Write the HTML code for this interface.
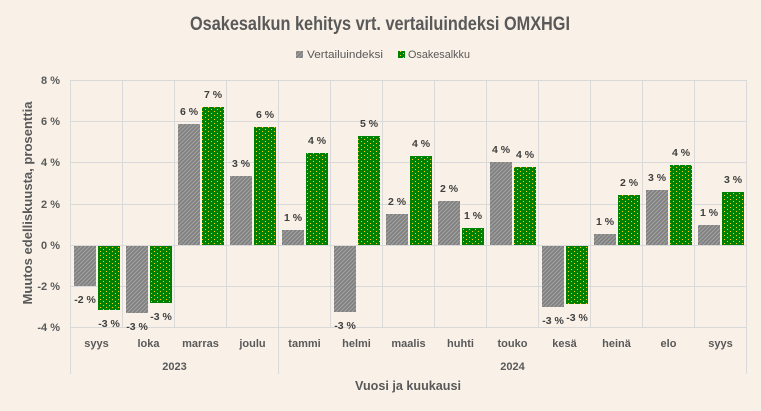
<!DOCTYPE html>
<html>
<head>
<meta charset="utf-8">
<style>
  html,body{margin:0;padding:0;background:#F9F1E7;}
  svg{display:block;}
  text{font-family:"Liberation Sans",sans-serif;}
</style>
</head>
<body>
<svg width="761" height="411" viewBox="0 0 761 411" xmlns="http://www.w3.org/2000/svg">
  <defs>
    <pattern id="hatch" patternUnits="userSpaceOnUse" width="4" height="4">
      <rect width="4" height="4" fill="#7F7F7F"/>
      <path d="M-1,1 l2,-2 M0,4 l4,-4 M3,5 l2,-2" stroke="#A3A3A3" stroke-width="1.1"/>
    </pattern>
    <pattern id="dots" patternUnits="userSpaceOnUse" width="6" height="4">
      <rect width="6" height="4" fill="#008000"/>
      <rect x="1" y="1" width="1" height="1" fill="#FFD500"/>
      <rect x="4" y="3" width="1" height="1" fill="#FFD500"/>
    </pattern>
  </defs>
  <rect width="761" height="411" fill="#F9F1E7"/>

  <!-- Title -->
  <text x="380" y="30" font-size="19" font-weight="bold" fill="#595959" text-anchor="middle" textLength="380" lengthAdjust="spacingAndGlyphs">Osakesalkun kehitys vrt. vertailuindeksi OMXHGI</text>

  <!-- Legend -->
  <rect x="296" y="51" width="7" height="7" fill="url(#hatch)"/>
  <text x="307" y="58" font-size="11" fill="#595959" textLength="76" lengthAdjust="spacingAndGlyphs">Vertailuindeksi</text>
  <rect x="398" y="51" width="7" height="7" fill="url(#dots)"/>
  <text x="408" y="58" font-size="11" fill="#595959" textLength="62" lengthAdjust="spacingAndGlyphs">Osakesalkku</text>

  <!-- Horizontal gridlines -->
  <g stroke="#D9D9D9" stroke-width="1">
    <line x1="70.5" y1="80.5" x2="746.5" y2="80.5"/>
    <line x1="70.5" y1="121.5" x2="746.5" y2="121.5"/>
    <line x1="70.5" y1="162.5" x2="746.5" y2="162.5"/>
    <line x1="70.5" y1="204.5" x2="746.5" y2="204.5"/>
    <line x1="70.5" y1="245.5" x2="746.5" y2="245.5"/>
    <line x1="70.5" y1="286.5" x2="746.5" y2="286.5"/>
    <line x1="70.5" y1="327.5" x2="746.5" y2="327.5"/>
    <!-- vertical category gridlines -->
    <line x1="70.5" y1="80" x2="70.5" y2="374"/>
    <line x1="122.5" y1="80" x2="122.5" y2="328"/>
    <line x1="174.5" y1="80" x2="174.5" y2="328"/>
    <line x1="226.5" y1="80" x2="226.5" y2="328"/>
    <line x1="278.5" y1="80" x2="278.5" y2="374"/>
    <line x1="330.5" y1="80" x2="330.5" y2="328"/>
    <line x1="382.5" y1="80" x2="382.5" y2="328"/>
    <line x1="434.5" y1="80" x2="434.5" y2="328"/>
    <line x1="486.5" y1="80" x2="486.5" y2="328"/>
    <line x1="538.5" y1="80" x2="538.5" y2="328"/>
    <line x1="590.5" y1="80" x2="590.5" y2="328"/>
    <line x1="642.5" y1="80" x2="642.5" y2="328"/>
    <line x1="694.5" y1="80" x2="694.5" y2="328"/>
    <line x1="746.5" y1="80" x2="746.5" y2="374"/>
  </g>

  <!-- Y tick labels -->
  <g font-size="11" font-weight="bold" fill="#595959" text-anchor="end">
    <text x="60" y="84">8 %</text>
    <text x="60" y="125">6 %</text>
    <text x="60" y="166">4 %</text>
    <text x="60" y="208">2 %</text>
    <text x="60" y="249">0 %</text>
    <text x="60" y="290">-2 %</text>
    <text x="60" y="331">-4 %</text>
  </g>

  <!-- Y axis title -->
  <text transform="translate(32,203) rotate(-90)" font-size="13" font-weight="bold" fill="#595959" text-anchor="middle" textLength="203" lengthAdjust="spacingAndGlyphs">Muutos edelliskuusta, prosenttia</text>

  <!-- Bars: Vertailuindeksi (grey hatch) -->
  <g fill="url(#hatch)">
    <rect x="74" y="246" width="22" height="40"/>
    <rect x="126" y="246" width="22" height="67"/>
    <rect x="178" y="124" width="22" height="121"/>
    <rect x="230" y="176" width="22" height="69"/>
    <rect x="282" y="230" width="22" height="15"/>
    <rect x="334" y="246" width="22" height="66"/>
    <rect x="386" y="214" width="22" height="31"/>
    <rect x="438" y="201" width="22" height="44"/>
    <rect x="490" y="162" width="22" height="83"/>
    <rect x="542" y="246" width="22" height="61"/>
    <rect x="594" y="234" width="22" height="11"/>
    <rect x="646" y="190" width="22" height="55"/>
    <rect x="698" y="225" width="22" height="20"/>
  </g>
  <!-- Bars: Osakesalkku (green dots) -->
  <g fill="url(#dots)">
    <rect x="98" y="246" width="22" height="64"/>
    <rect x="150" y="246" width="22" height="57"/>
    <rect x="202" y="107" width="22" height="138"/>
    <rect x="254" y="127" width="22" height="118"/>
    <rect x="306" y="153" width="22" height="92"/>
    <rect x="358" y="136" width="22" height="109"/>
    <rect x="410" y="156" width="22" height="89"/>
    <rect x="462" y="228" width="22" height="17"/>
    <rect x="514" y="167" width="22" height="78"/>
    <rect x="566" y="246" width="22" height="58"/>
    <rect x="618" y="195" width="22" height="50"/>
    <rect x="670" y="165" width="22" height="80"/>
    <rect x="722" y="192" width="22" height="53"/>
  </g>

  <!-- Data labels -->
  <g font-size="10.5" font-weight="bold" fill="#404040" text-anchor="middle">
    <text x="85" y="303">-2 %</text>
    <text x="109" y="327">-3 %</text>
    <text x="137" y="330">-3 %</text>
    <text x="161" y="320">-3 %</text>
    <text x="189" y="115">6 %</text>
    <text x="213" y="98">7 %</text>
    <text x="241" y="167">3 %</text>
    <text x="265" y="118">6 %</text>
    <text x="293" y="221">1 %</text>
    <text x="317" y="144">4 %</text>
    <text x="345" y="329">-3 %</text>
    <text x="369" y="127">5 %</text>
    <text x="397" y="205">2 %</text>
    <text x="421" y="147">4 %</text>
    <text x="449" y="192">2 %</text>
    <text x="473" y="219">1 %</text>
    <text x="501" y="153">4 %</text>
    <text x="525" y="158">4 %</text>
    <text x="553" y="324">-3 %</text>
    <text x="577" y="321">-3 %</text>
    <text x="605" y="225">1 %</text>
    <text x="629" y="186">2 %</text>
    <text x="657" y="181">3 %</text>
    <text x="681" y="156">4 %</text>
    <text x="709" y="216">1 %</text>
    <text x="733" y="183">3 %</text>
  </g>

  <!-- Category labels -->
  <g font-size="11" font-weight="bold" fill="#595959" text-anchor="middle">
    <text x="96.5" y="347">syys</text>
    <text x="148.5" y="347">loka</text>
    <text x="200.5" y="347">marras</text>
    <text x="252.5" y="347">joulu</text>
    <text x="304.5" y="347">tammi</text>
    <text x="356.5" y="347">helmi</text>
    <text x="408.5" y="347">maalis</text>
    <text x="460.5" y="347">huhti</text>
    <text x="512.5" y="347">touko</text>
    <text x="564.5" y="347">kesä</text>
    <text x="616.5" y="347">heinä</text>
    <text x="668.5" y="347">elo</text>
    <text x="720.5" y="347">syys</text>
    <text x="174.5" y="370">2023</text>
    <text x="512.5" y="370">2024</text>
  </g>

  <!-- X axis title -->
  <text x="408" y="390" font-size="13" font-weight="bold" fill="#595959" text-anchor="middle" textLength="106" lengthAdjust="spacingAndGlyphs">Vuosi ja kuukausi</text>
</svg>
</body>
</html>
